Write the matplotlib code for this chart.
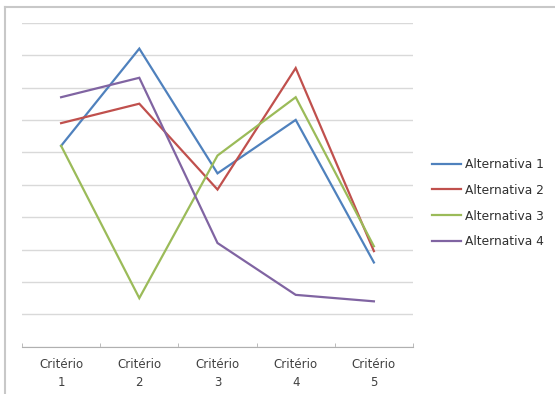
import matplotlib.pyplot as plt
from matplotlib.lines import Line2D

plt.rcParams['font.family'] = ['DejaVu Sans']

# dados do gráfico
criterios = ['Critério\n1', 'Critério\n2', 'Critério\n3', 'Critério\n4', 'Critério\n5']
alternativa1 = [6.2, 9.2, 5.35, 7.0, 2.6]
alternativa2 = [6.9, 7.5, 4.85, 8.6, 2.95]
alternativa3 = [6.2, 1.5, 5.9, 7.7, 3.1]
alternativa4 = [7.7, 8.3, 3.2, 1.6, 1.4]
nomes = ['Alternativa 1', 'Alternativa 2', 'Alternativa 3', 'Alternativa 4']
cores = ['#4F81BD', '#C0504D', '#9BBB59', '#8064A2']

fig = plt.figure(figsize=(5.55, 3.94), dpi=100)
ax = fig.add_axes([22 / 555, 1 - 346.7 / 394, (413 - 22) / 555, (346.7 - 22.7) / 394])

x = range(len(criterios))
series = [alternativa1, alternativa2, alternativa3, alternativa4]
for vals, nome, cor in zip(series, nomes, cores):
    ax.plot(x, vals, color=cor, lw=1.6, label=nome, solid_joinstyle='miter')

ax.set_xlim(-0.5, len(criterios) - 0.5)
ax.set_ylim(0, 10)
ax.set_yticks(range(0, 11))
ax.yaxis.grid(True, color='#d9d9d9', lw=1)
ax.set_axisbelow(True)
ax.tick_params(axis='y', left=False, labelleft=False)

# rótulos das categorias no centro, marcas entre categorias
ax.set_xticks(list(x))
ax.set_xticklabels(criterios, fontsize=8.5, color='#404040', linespacing=1.5)
ax.tick_params(axis='x', length=0, pad=8)
ax.set_xticks([i - 0.5 for i in range(len(criterios) + 1)], minor=True)
ax.tick_params(axis='x', which='minor', length=3, color='#b0b0b0', direction='in')

for s in ['top', 'right', 'left']:
    ax.spines[s].set_visible(False)
ax.spines['bottom'].set_color('#b0b0b0')

leg = fig.legend(loc='upper left', bbox_to_anchor=(427 / 555, 1 - 153 / 394),
                 frameon=False, fontsize=8.8, handlelength=2.4, handletextpad=0.3,
                 labelspacing=1.05, borderaxespad=0)
for t in leg.get_texts():
    t.set_color('#303030')

# borda da área do gráfico
fig.add_artist(Line2D([5 / 555, 5 / 555], [0, 1 - 7 / 394], color='#c8c8c8', lw=1.5))
fig.add_artist(Line2D([5 / 555, 1], [1 - 7 / 394, 1 - 7 / 394], color='#c8c8c8', lw=1.5))

fig.savefig('out.png', dpi=100)
